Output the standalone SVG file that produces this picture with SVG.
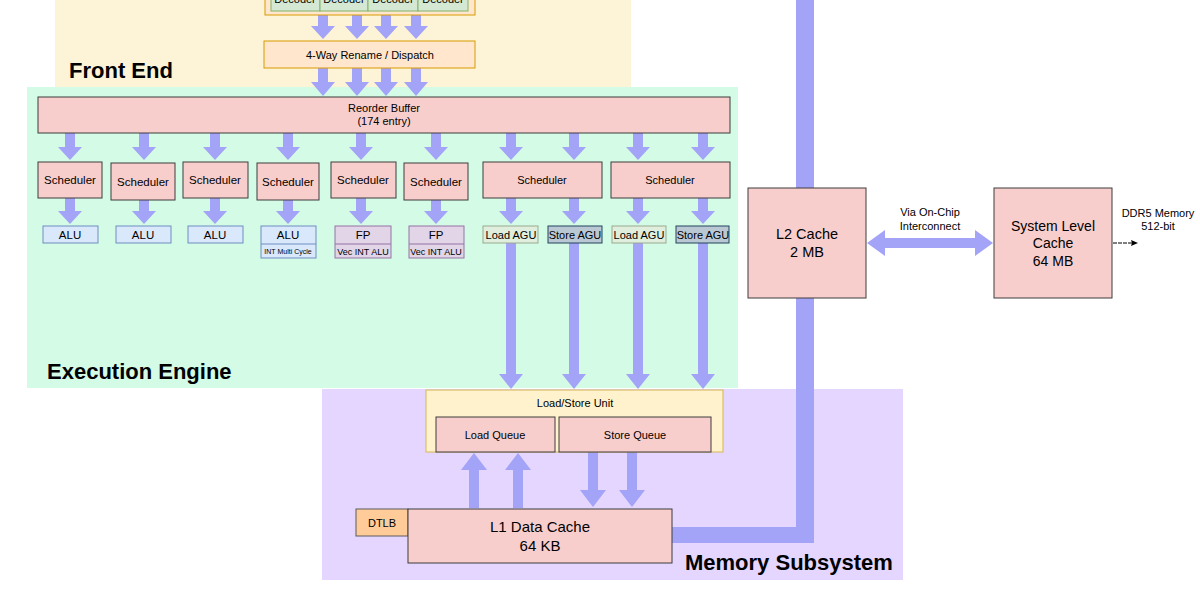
<svg xmlns="http://www.w3.org/2000/svg" width="1200" height="600" viewBox="0 0 1200 600">
<style>
text{font-family:"Liberation Sans",Arial,sans-serif;fill:#000;text-anchor:middle}
.pink{fill:#f8cecc;stroke:#3c3c3c;stroke-width:1}
.alu{fill:#dae8fc;stroke:#6c8ebf;stroke-width:1}
.fp{fill:#e1d5e7;stroke:#9673a6;stroke-width:1}
.lagu{fill:#dfeedd;stroke:#9aaa90;stroke-width:1}
.sagu{fill:#bac8d3;stroke:#23445d;stroke-width:1}
.arr{fill:#a3a3f8}
.s11{font-size:11px}
.sch{font-size:11.5px}
.s10{font-size:11px}
.lbl{font-size:22px;font-weight:bold;text-anchor:start}
</style>
<rect width="1200" height="600" fill="#fff"/>
<g id="panels">
<rect x="55" y="0" width="576" height="88" fill="#fdf3d6"/>
<rect x="27" y="87" width="711" height="301" fill="#d4fbe6"/>
<rect x="322" y="389" width="581" height="191" fill="#e4d6fe"/>
<text class="lbl" x="69" y="78">Front End</text>
<text class="lbl" x="47" y="379">Execution Engine</text>
<text class="lbl" x="685" y="570">Memory Subsystem</text>
</g>
<g id="pipe">
<path class="arr" d="M796,0 H814 V543 H672 V527 H796 Z"/>
</g>
<g id="connectors">
<polygon class="arr" points="318,15 328,15 328,26 335,26 323,39 311,26 318,26"/>
<polygon class="arr" points="352,15 362,15 362,26 369,26 357,39 345,26 352,26"/>
<polygon class="arr" points="381,15 391,15 391,26 398,26 386,39 374,26 381,26"/>
<polygon class="arr" points="411,15 421,15 421,26 428,26 416,39 404,26 411,26"/>
<polygon class="arr" points="318,68 328,68 328,82 335,82 323,96 311,82 318,82"/>
<polygon class="arr" points="352,68 362,68 362,82 369,82 357,96 345,82 352,82"/>
<polygon class="arr" points="381,68 391,68 391,82 398,82 386,96 374,82 381,82"/>
<polygon class="arr" points="411,68 421,68 421,82 428,82 416,96 404,82 411,82"/>
<polygon class="arr" points="65,133 75,133 75,147 82,147 70,160 58,147 65,147"/>
<polygon class="arr" points="139,133 149,133 149,147 156,147 144,160 132,147 139,147"/>
<polygon class="arr" points="210,133 220,133 220,147 227,147 215,160 203,147 210,147"/>
<polygon class="arr" points="283,133 293,133 293,147 300,147 288,160 276,147 283,147"/>
<polygon class="arr" points="356,133 366,133 366,147 373,147 361,160 349,147 356,147"/>
<polygon class="arr" points="431,133 441,133 441,147 448,147 436,160 424,147 431,147"/>
<polygon class="arr" points="506,133 516,133 516,147 523,147 511,160 499,147 506,147"/>
<polygon class="arr" points="569,133 579,133 579,147 586,147 574,160 562,147 569,147"/>
<polygon class="arr" points="633,133 643,133 643,147 650,147 638,160 626,147 633,147"/>
<polygon class="arr" points="698,133 708,133 708,147 715,147 703,160 691,147 698,147"/>
<polygon class="arr" points="65,198 75,198 75,211 82,211 70,224 58,211 65,211"/>
<polygon class="arr" points="139,198 149,198 149,211 156,211 144,224 132,211 139,211"/>
<polygon class="arr" points="210,198 220,198 220,211 227,211 215,224 203,211 210,211"/>
<polygon class="arr" points="283,200 293,200 293,211 300,211 288,224 276,211 283,211"/>
<polygon class="arr" points="356,198 366,198 366,211 373,211 361,224 349,211 356,211"/>
<polygon class="arr" points="431,200 441,200 441,211 448,211 436,224 424,211 431,211"/>
<polygon class="arr" points="506,198 516,198 516,211 523,211 511,224 499,211 506,211"/>
<polygon class="arr" points="569,198 579,198 579,211 586,211 574,224 562,211 569,211"/>
<polygon class="arr" points="633,198 643,198 643,211 650,211 638,224 626,211 633,211"/>
<polygon class="arr" points="698,198 708,198 708,211 715,211 703,224 691,211 698,211"/>
<polygon class="arr" points="506,243 516,243 516,374 523,374 511,389 499,374 506,374"/>
<polygon class="arr" points="569,243 579,243 579,374 586,374 574,389 562,374 569,374"/>
<polygon class="arr" points="633,243 643,243 643,374 650,374 638,389 626,374 633,374"/>
<polygon class="arr" points="698,243 708,243 708,374 715,374 703,389 691,374 698,374"/>
<polygon class="arr" points="469,508 479,508 479,470 487,470 474,453 461,470 469,470"/>
<polygon class="arr" points="513,508 523,508 523,470 531,470 518,453 505,470 513,470"/>
<polygon class="arr" points="588,452 598,452 598,490 606,490 593,507 580,490 588,490"/>
<polygon class="arr" points="627,452 637,452 637,490 645,490 632,507 619,490 627,490"/>
<polygon class="arr" points="867,243 885,230 885,238 975,238 975,230 993,243 975,256 975,248 885,248 885,256"/>
<line x1="1113" y1="243" x2="1132" y2="243" stroke="#000" stroke-width="1" stroke-dasharray="4 1"/>
<polygon points="1138,243 1131,240 1132,243 1131,246" fill="#000"/>
<text class="s10" x="930" y="216">Via On-Chip</text>
<text class="s10" x="930" y="230">Interconnect</text>
<text class="s10" x="1158" y="217">DDR5 Memory</text>
<text class="s10" x="1158" y="230">512-bit</text>
</g>
<g id="decoders">
<rect x="265" y="-10" width="210" height="25" fill="#ffe6cc" stroke="#d79b00"/>
<rect x="271" y="-10" width="49" height="21" fill="#d5e8d4" stroke="#82b366"/>
<rect x="320" y="-10" width="48" height="21" fill="#d5e8d4" stroke="#82b366"/>
<rect x="368" y="-10" width="50" height="21" fill="#d5e8d4" stroke="#82b366"/>
<rect x="418" y="-10" width="50" height="21" fill="#d5e8d4" stroke="#82b366"/>
<text class="s11" x="295" y="3">Decoder</text>
<text class="s11" x="344" y="3">Decoder</text>
<text class="s11" x="393" y="3">Decoder</text>
<text class="s11" x="443" y="3">Decoder</text>
</g>
<g id="rename">
<rect x="264" y="41" width="211" height="27" fill="#ffe6cc" stroke="#d79b00"/>
<text class="s10" x="370" y="59">4-Way Rename / Dispatch</text>
</g>
<g id="rob">
<rect class="pink" x="38" y="97" width="692" height="36"/>
<text class="s10" x="384" y="112">Reorder Buffer</text>
<text class="s10" x="384" y="125">(174 entry)</text>
</g>
<g id="sched1"><rect class="pink" x="38" y="162" width="64" height="36"/><text class="sch" x="70" y="184">Scheduler</text></g>
<g id="sched2"><rect class="pink" x="111" y="163" width="64" height="37"/><text class="sch" x="143" y="186">Scheduler</text></g>
<g id="sched3"><rect class="pink" x="183" y="162" width="65" height="36"/><text class="sch" x="215" y="184">Scheduler</text></g>
<g id="sched4"><rect class="pink" x="257" y="163" width="62" height="37"/><text class="sch" x="288" y="186">Scheduler</text></g>
<g id="sched5"><rect class="pink" x="331" y="162" width="65" height="36"/><text class="sch" x="363" y="184">Scheduler</text></g>
<g id="sched6"><rect class="pink" x="404" y="163" width="64" height="37"/><text class="sch" x="436" y="186">Scheduler</text></g>
<g id="sched7"><rect class="pink" x="483" y="162" width="119" height="36"/><text class="s11" x="542" y="184">Scheduler</text></g>
<g id="sched8"><rect class="pink" x="611" y="162" width="119" height="36"/><text class="s11" x="670" y="184">Scheduler</text></g>
<g id="alu1"><rect class="alu" x="43" y="226" width="55" height="17"/><text class="sch" x="70" y="239">ALU</text></g>
<g id="alu2"><rect class="alu" x="116" y="226" width="55" height="17"/><text class="sch" x="143" y="239">ALU</text></g>
<g id="alu3"><rect class="alu" x="188" y="226" width="55" height="17"/><text class="sch" x="215" y="239">ALU</text></g>
<g id="alu4"><rect class="alu" x="261" y="226" width="55" height="32"/><line x1="261" y1="244" x2="316" y2="244" stroke="#6c8ebf"/><text class="sch" x="288" y="239">ALU</text><text x="288" y="254" font-size="7">INT Multi Cycle</text></g>
<g id="fp1"><rect class="fp" x="335" y="226" width="56" height="32"/><line x1="335" y1="244" x2="391" y2="244" stroke="#9673a6"/><text class="sch" x="363" y="239">FP</text><text x="363" y="255" font-size="9">Vec INT ALU</text></g>
<g id="fp2"><rect class="fp" x="409" y="226" width="55" height="32"/><line x1="409" y1="244" x2="464" y2="244" stroke="#9673a6"/><text class="sch" x="436" y="239">FP</text><text x="436" y="255" font-size="9">Vec INT ALU</text></g>
<g id="lagu1"><rect class="lagu" x="483" y="226" width="55" height="17"/><text class="s11" x="511" y="239">Load AGU</text></g>
<g id="sagu1"><rect class="sagu" x="548" y="226" width="54" height="17"/><text class="s11" x="575" y="239">Store AGU</text></g>
<g id="lagu2"><rect class="lagu" x="612" y="226" width="54" height="17"/><text class="s11" x="639" y="239">Load AGU</text></g>
<g id="sagu2"><rect class="sagu" x="676" y="226" width="53" height="17"/><text class="s11" x="703" y="239">Store AGU</text></g>
<g id="lsu">
<rect x="426" y="390" width="297" height="62" fill="#fff2cc" stroke="#d6b656"/>
<text class="s10" x="575" y="407">Load/Store Unit</text>
</g>
<g id="loadq"><rect class="pink" x="436" y="417" width="119" height="35"/><text class="s11" x="495" y="439">Load Queue</text></g>
<g id="storeq"><rect class="pink" x="559" y="417" width="152" height="35"/><text class="s11" x="635" y="439">Store Queue</text></g>
<g id="dtlb"><rect x="356" y="509" width="52" height="27" fill="#ffcc99" stroke="#5a5a5a"/><text class="s11" x="382" y="527">DTLB</text></g>
<g id="l1"><rect class="pink" x="408" y="509" width="264" height="54"/><text x="540" y="532" font-size="15">L1 Data Cache</text><text x="540" y="551" font-size="15">64 KB</text></g>
<g id="l2"><rect class="pink" x="748" y="188" width="118" height="110"/><text x="807" y="239" font-size="14.5">L2 Cache</text><text x="807" y="257" font-size="14.5">2 MB</text></g>
<g id="slc"><rect class="pink" x="994" y="188" width="118" height="110"/><text x="1053" y="231" font-size="14">System Level</text><text x="1053" y="248" font-size="14">Cache</text><text x="1053" y="266" font-size="14">64 MB</text></g>
</svg>
